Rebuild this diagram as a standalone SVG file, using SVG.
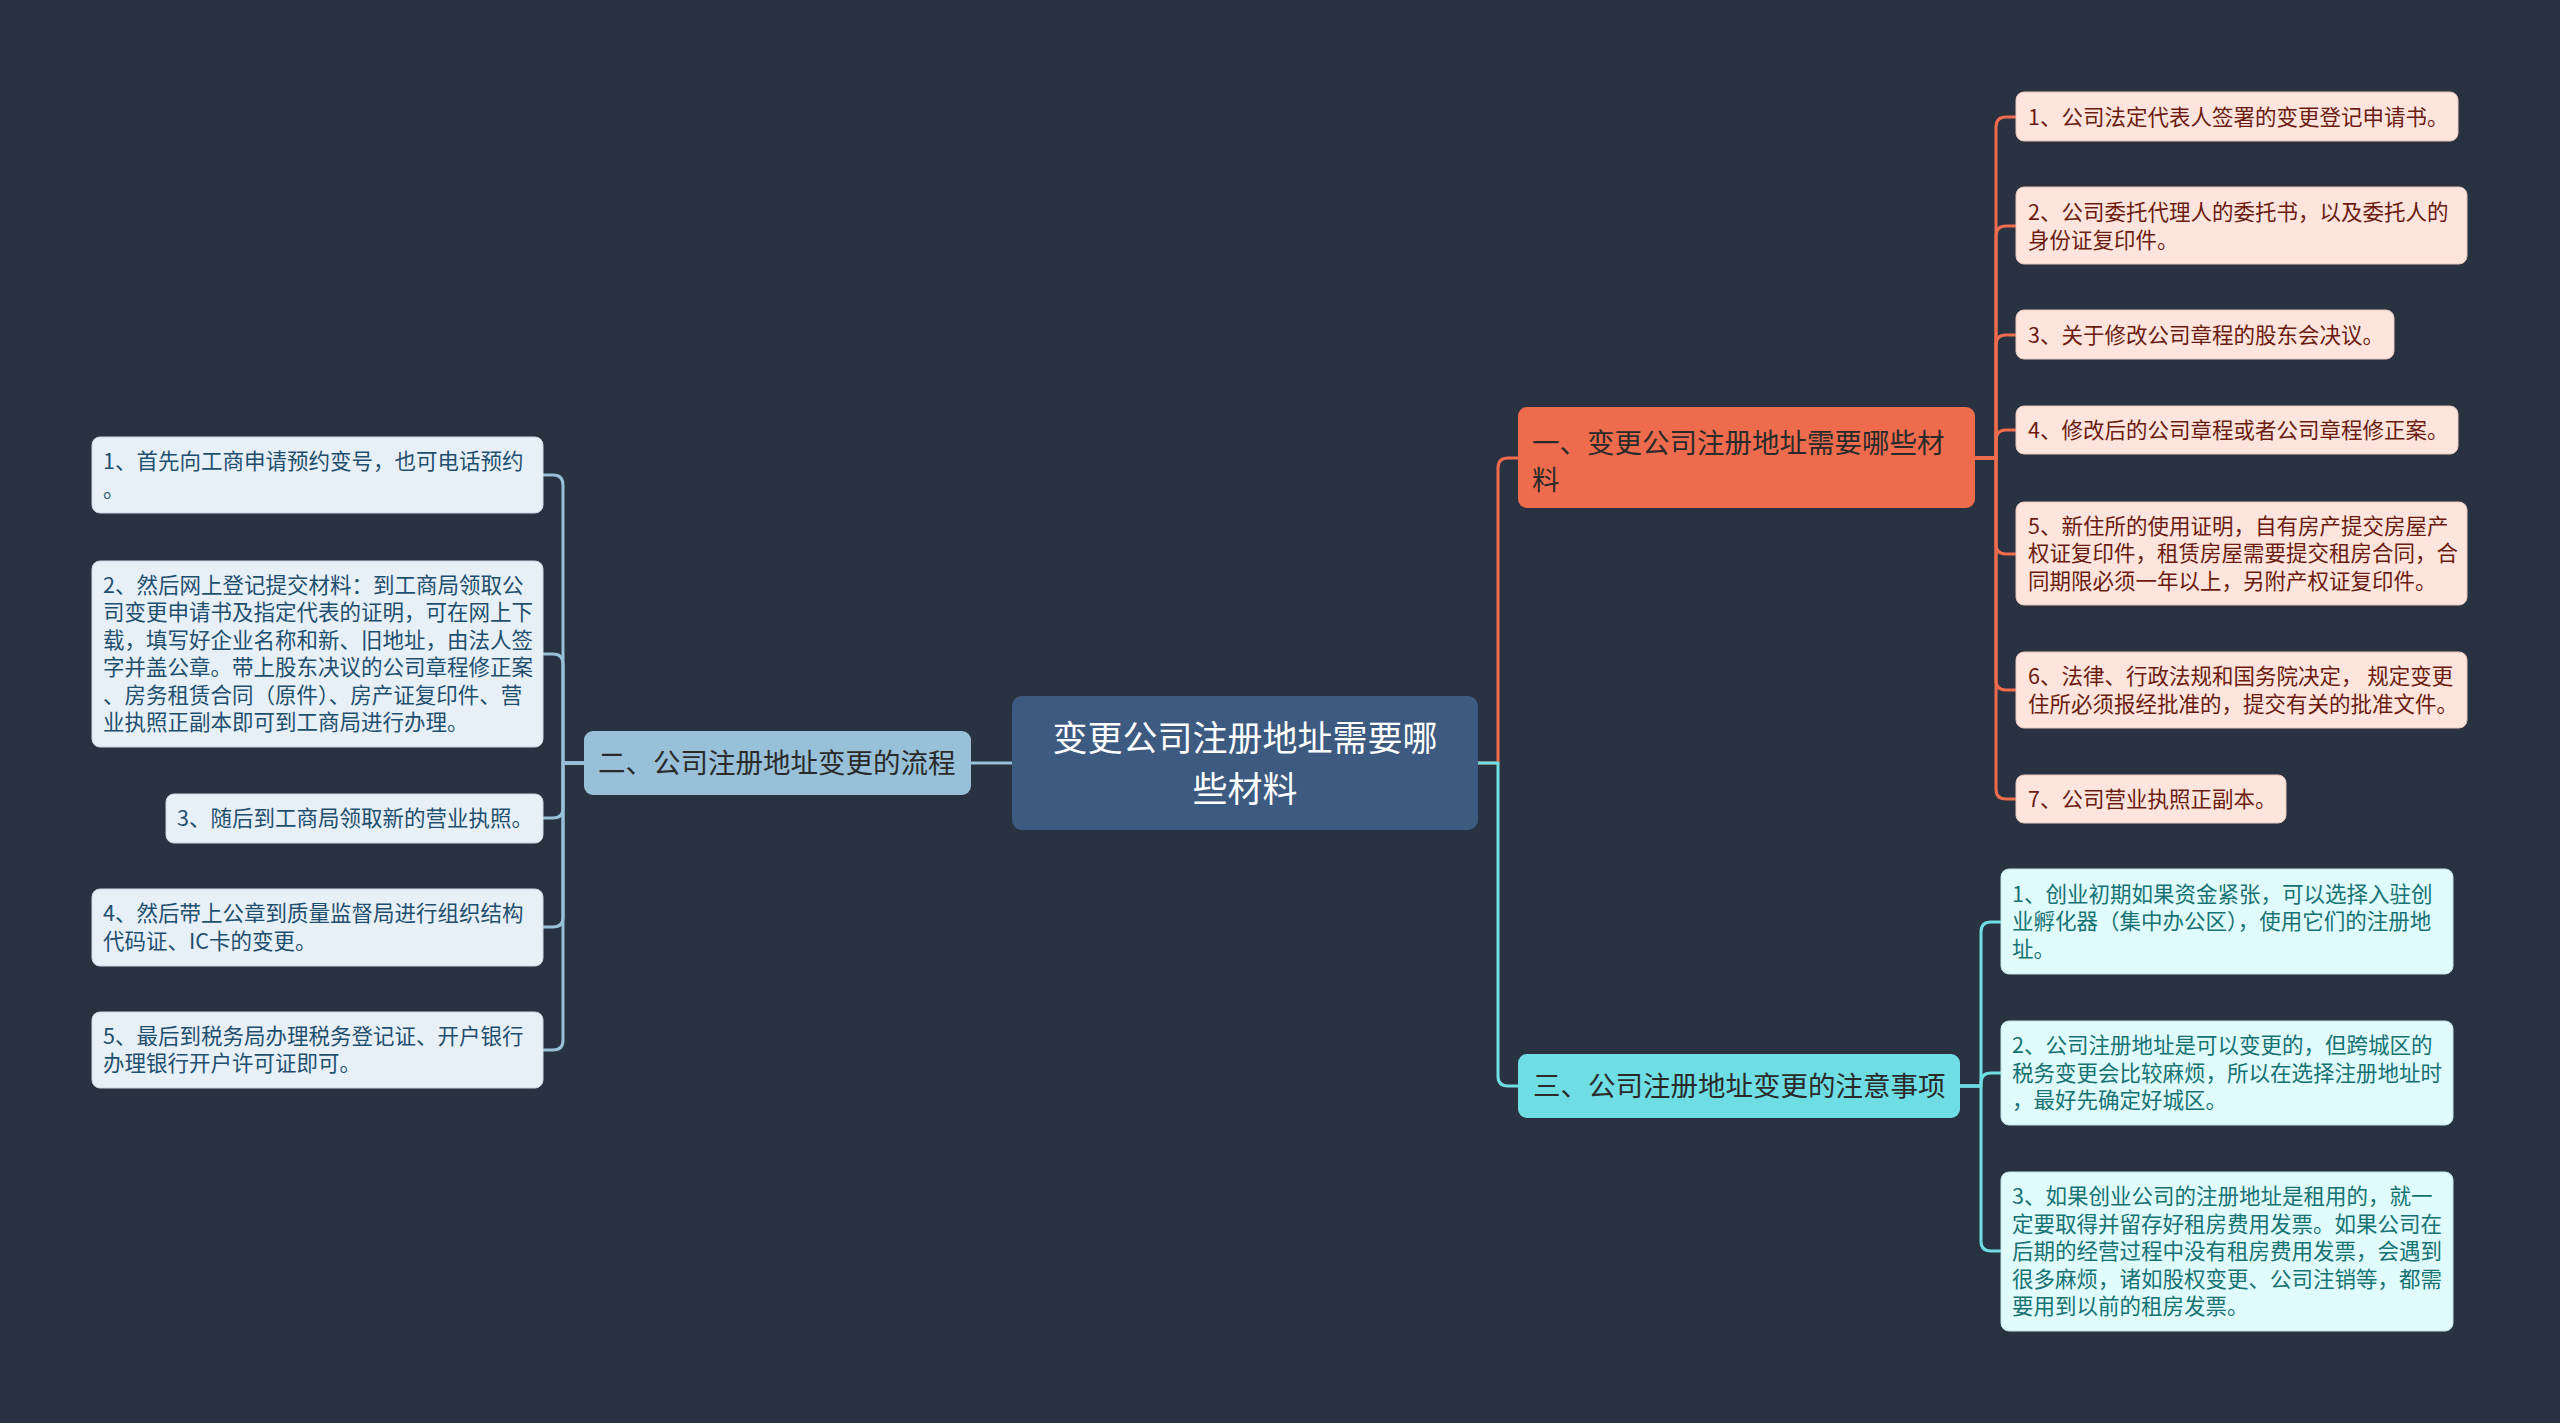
<svg xmlns="http://www.w3.org/2000/svg" width="2560" height="1423" viewBox="0 0 2560 1423">
<style>
text{font-family:"Noto Sans CJK SC","Noto Sans",sans-serif;}
.root-t{font-size:35px;fill:#ffffff;text-anchor:middle;}
.br-t{font-size:27.5px;fill:#2a2a2a;}
.lf{font-size:21.5px;}
.o-t{fill:#6b1b10;}
.b-t{fill:#1f4f6f;}
.c-t{fill:#167273;}
.c{fill:none;stroke-width:3;stroke-linecap:round;stroke-linejoin:round;}
.co{stroke:#ee6c4d;}
.cb{stroke:#98c1d9;}
.cc{stroke:#6fdde4;}
.lo{fill:#fde5dd;stroke:#e9c6bb;stroke-width:1;}
.lb{fill:#e8f0f7;stroke:#c9d7e2;stroke-width:1;}
.lc{fill:#e0fbfc;stroke:#bfe3e5;stroke-width:1;}
</style>
<rect x="0" y="0" width="2560" height="1423" fill="#293241"/>
<g id="connectors">
<path class="c cb" d="M1012,763 H971"/>
<path class="c cb" d="M584,763 H563 V485 Q563,475 553,475 H543"/>
<path class="c cb" d="M584,763 H563 V664 Q563,654 553,654 H543"/>
<path class="c cb" d="M584,763 H563 V808 Q563,818 553,818 H543"/>
<path class="c cb" d="M584,763 H563 V917 Q563,927 553,927 H543"/>
<path class="c cb" d="M584,763 H563 V1040 Q563,1050 553,1050 H543"/>
<path class="c co" d="M1478,763 H1498 V468 Q1498,458 1508,458 H1518"/>
<path class="c cc" d="M1478,763 H1498 V1076 Q1498,1086 1508,1086 H1518"/>
<path class="c co" d="M1975,458 H1996 V127 Q1996,117 2006,117 H2016"/>
<path class="c co" d="M1975,458 H1996 V236 Q1996,226 2006,226 H2016"/>
<path class="c co" d="M1975,458 H1996 V345 Q1996,335 2006,335 H2016"/>
<path class="c co" d="M1975,458 H1996 V440 Q1996,430 2006,430 H2016"/>
<path class="c co" d="M1975,458 H1996 V544 Q1996,554 2006,554 H2016"/>
<path class="c co" d="M1975,458 H1996 V680 Q1996,690 2006,690 H2016"/>
<path class="c co" d="M1975,458 H1996 V789 Q1996,799 2006,799 H2016"/>
<path class="c cc" d="M1960,1086 H1981 V932 Q1981,922 1991,922 H2001"/>
<path class="c cc" d="M1960,1086 H1981 V1083 Q1981,1073 1991,1073 H2001"/>
<path class="c cc" d="M1960,1086 H1981 V1241 Q1981,1251 1991,1251 H2001"/>
</g>
<g id="root">
<rect x="1012" y="696" width="466" height="134" rx="10" fill="#3d5a80"/>
<text class="root-t"><tspan x="1245" y="751">变更公司注册地址需要哪</tspan><tspan x="1245" y="802">些材料</tspan></text>
</g>
<g id="branch1">
<rect x="1518" y="407" width="457" height="101" rx="9" fill="#ee6c4d"/>
<text class="br-t"><tspan x="1532" y="453">一、变更公司注册地址需要哪些材</tspan><tspan x="1532" y="490">料</tspan></text>
</g>
<g id="branch2">
<rect x="584" y="731" width="387" height="64" rx="9" fill="#98c1d9"/>
<text class="br-t" x="598" y="773">二、公司注册地址变更的流程</text>
</g>
<g id="branch3">
<rect x="1518" y="1054" width="442" height="64" rx="9" fill="#6fdde4"/>
<text class="br-t" x="1533" y="1096">三、公司注册地址变更的注意事项</text>
</g>
<g id="o1">
<rect class="lo" x="2016" y="92" width="442" height="49" rx="8"/>
<text class="lf o-t" x="2028" y="124.5">1、公司法定代表人签署的变更登记申请书。</text>
</g>
<g id="o2">
<rect class="lo" x="2016" y="187" width="451" height="77" rx="8"/>
<text class="lf o-t"><tspan x="2028" y="219.5">2、公司委托代理人的委托书，以及委托人的</tspan><tspan x="2028" y="247.5">身份证复印件。</tspan></text>
</g>
<g id="o3">
<rect class="lo" x="2016" y="310" width="378" height="49" rx="8"/>
<text class="lf o-t" x="2028" y="342.5">3、关于修改公司章程的股东会决议。</text>
</g>
<g id="o4">
<rect class="lo" x="2016" y="406" width="442" height="48" rx="8"/>
<text class="lf o-t" x="2028" y="437.5">4、修改后的公司章程或者公司章程修正案。</text>
</g>
<g id="o5">
<rect class="lo" x="2016" y="502" width="451" height="103" rx="8"/>
<text class="lf o-t"><tspan x="2028" y="533.5">5、新住所的使用证明，自有房产提交房屋产</tspan><tspan x="2028" y="561">权证复印件，租赁房屋需要提交租房合同，合</tspan><tspan x="2028" y="588.5">同期限必须一年以上，另附产权证复印件。</tspan></text>
</g>
<g id="o6">
<rect class="lo" x="2016" y="652" width="451" height="76" rx="8"/>
<text class="lf o-t"><tspan x="2028" y="683.5">6、法律、行政法规和国务院决定， 规定变更</tspan><tspan x="2028" y="711.5">住所必须报经批准的，提交有关的批准文件。</tspan></text>
</g>
<g id="o7">
<rect class="lo" x="2016" y="775" width="270" height="48" rx="8"/>
<text class="lf o-t" x="2028" y="806.5">7、公司营业执照正副本。</text>
</g>
<g id="c1">
<rect class="lc" x="2001" y="869" width="452" height="105" rx="8"/>
<text class="lf c-t"><tspan x="2012" y="901.5">1、创业初期如果资金紧张，可以选择入驻创</tspan><tspan x="2012" y="929">业孵化器（集中办公区），使用它们的注册地</tspan><tspan x="2012" y="956.5">址。</tspan></text>
</g>
<g id="c2">
<rect class="lc" x="2001" y="1021" width="452" height="104" rx="8"/>
<text class="lf c-t"><tspan x="2012" y="1053">2、公司注册地址是可以变更的，但跨城区的</tspan><tspan x="2012" y="1080.5">税务变更会比较麻烦，所以在选择注册地址时</tspan><tspan x="2012" y="1108">，最好先确定好城区。</tspan></text>
</g>
<g id="c3">
<rect class="lc" x="2001" y="1172" width="452" height="159" rx="8"/>
<text class="lf c-t"><tspan x="2012" y="1204">3、如果创业公司的注册地址是租用的，就一</tspan><tspan x="2012" y="1231.5">定要取得并留存好租房费用发票。如果公司在</tspan><tspan x="2012" y="1259">后期的经营过程中没有租房费用发票，会遇到</tspan><tspan x="2012" y="1286.5">很多麻烦，诸如股权变更、公司注销等，都需</tspan><tspan x="2012" y="1314">要用到以前的租房发票。</tspan></text>
</g>
<g id="l1">
<rect class="lb" x="92" y="437" width="451" height="76" rx="8"/>
<text class="lf b-t"><tspan x="103" y="468.5">1、首先向工商申请预约变号，也可电话预约</tspan><tspan x="103" y="496.5">。</tspan></text>
</g>
<g id="l2">
<rect class="lb" x="92" y="561" width="451" height="186" rx="8"/>
<text class="lf b-t"><tspan x="103" y="592.5">2、然后网上登记提交材料：到工商局领取公</tspan><tspan x="103" y="620">司变更申请书及指定代表的证明，可在网上下</tspan><tspan x="103" y="647.5">载，填写好企业名称和新、旧地址，由法人签</tspan><tspan x="103" y="675">字并盖公章。带上股东决议的公司章程修正案</tspan><tspan x="103" y="702.5">、房务租赁合同（原件）、房产证复印件、营</tspan><tspan x="103" y="730">业执照正副本即可到工商局进行办理。</tspan></text>
</g>
<g id="l3">
<rect class="lb" x="166" y="794" width="377" height="49" rx="8"/>
<text class="lf b-t" x="177" y="826">3、随后到工商局领取新的营业执照。</text>
</g>
<g id="l4">
<rect class="lb" x="92" y="889" width="451" height="77" rx="8"/>
<text class="lf b-t"><tspan x="103" y="921">4、然后带上公章到质量监督局进行组织结构</tspan><tspan x="103" y="948.5">代码证、IC卡的变更。</tspan></text>
</g>
<g id="l5">
<rect class="lb" x="92" y="1012" width="451" height="76" rx="8"/>
<text class="lf b-t"><tspan x="103" y="1043.5">5、最后到税务局办理税务登记证、开户银行</tspan><tspan x="103" y="1071">办理银行开户许可证即可。</tspan></text>
</g>
</svg>
